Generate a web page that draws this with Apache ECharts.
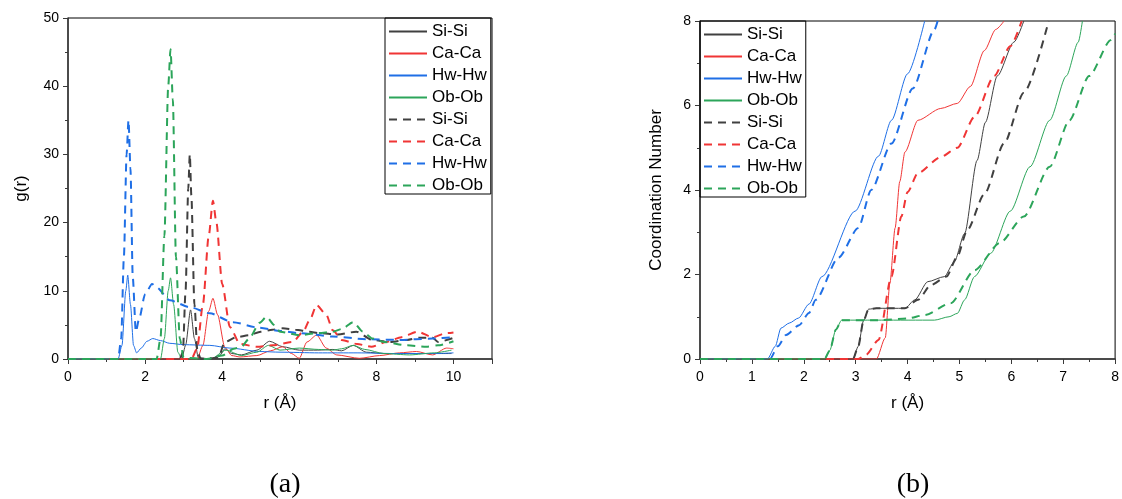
<!DOCTYPE html>
<html>
<head>
<meta charset="utf-8">
<script src="https://cdn.jsdelivr.net/npm/echarts@6/dist/echarts.min.js"></script>
<style>
  html, body { margin: 0; padding: 0; background: #fff; }
  #chart { width: 1122px; height: 499px; }
</style>
</head>
<body>
<div id="chart"></div>
<script>
// legend labels (solid first, then dashed)
const pairLabels = ['Si-Si', 'Ca-Ca', 'Hw-Hw', 'Ob-Ob']

// (a) g(r) -- [r, g]
const siSolidA = [[0,0],[2.95,0],[3.05,2],[3.18,7.2],[3.28,3],[3.38,0.2],[3.7,0],[3.95,0.6],[4.07,1.5],[4.25,0.8],[4.5,0.6],[4.9,1.3],[5.23,2.6],[5.57,1.8],[6.0,1.3],[6.48,1.3],[6.87,1.4],[7.1,1.2],[7.4,2.0],[7.74,1.0],[8.2,0.8],[8.6,0.8],[9.3,0.8],[9.95,0.8]]
const caSolidA = [[0,0],[3.35,0],[3.5,2],[3.65,7],[3.76,8.9],[3.88,6.5],[4.07,1.7],[4.25,0.5],[4.46,0.3],[4.9,0.5],[5.25,1.2],[5.57,1.8],[5.8,0.8],[6.0,0.1],[6.2,2.5],[6.45,3.5],[6.7,1.6],[6.97,0.6],[7.56,0.1],[8.08,0.5],[8.6,0.9],[9.04,1.1],[9.46,0.6],[9.82,1.6],[10,1.5]]
const hwSolidA = [[0,0],[1.3,0],[1.4,2],[1.5,10],[1.55,12.3],[1.62,8],[1.7,2],[1.78,0.9],[1.9,1.6],[2.05,2.6],[2.2,3.0],[2.4,2.7],[2.64,2.3],[3.0,2.1],[3.68,2.0],[4.2,1.6],[4.97,1.1],[5.5,1.0],[6.5,0.9],[7.5,0.9],[8.5,0.8],[9.5,0.8],[10,0.9]]
const obSolidA = [[0,0],[2.4,0],[2.5,3],[2.6,10],[2.66,11.9],[2.74,8],[2.85,1],[2.95,0],[3.7,0],[4.1,1.3],[4.5,0.5],[4.9,1.0],[5.2,2.0],[5.5,1.3],[6.0,1.6],[6.5,1.4],[6.87,1.3],[7.1,1.5],[7.4,2.0],[7.7,1.4],[8.2,0.8],[8.86,0.6],[9.5,0.9],[9.95,1.3]]
const siDashA = [[0,0],[2.9,0],[2.98,1],[3.05,10],[3.12,25],[3.16,30],[3.2,24],[3.28,8],[3.36,1],[3.45,0],[3.9,0.2],[4.07,2.5],[4.37,3.2],[4.7,3.5],[5.0,4.0],[5.3,4.3],[5.57,4.5],[5.9,4.3],[6.27,4],[6.5,3.8],[7.0,3.6],[7.48,4.0],[7.9,2.8],[8.34,2.5],[8.8,2.8],[9.1,3.1],[9.46,3.1],[9.6,2.5],[10,3.1]]
const caDashA = [[0,0],[3.2,0],[3.35,1.5],[3.5,8],[3.65,18],[3.76,23.2],[3.85,20],[4.0,11],[4.2,4.7],[4.46,2.2],[4.9,1.8],[5.3,2.0],[5.83,2.5],[6.1,4],[6.27,5.7],[6.45,7.9],[6.7,6.5],[6.87,4.2],[7.1,2.8],[7.5,2.2],[7.87,1.8],[8.26,2.5],[8.65,3.2],[9.07,4.0],[9.46,3.2],[9.82,3.8],[10,3.9]]
const hwDashA = [[0,0],[1.3,0],[1.38,3],[1.45,15],[1.52,30],[1.57,35],[1.62,28],[1.68,12],[1.76,4],[1.85,6],[2.0,9.5],[2.18,11],[2.3,10.5],[2.64,8.6],[3.16,7.6],[3.68,6.7],[4.27,5.4],[4.95,4.6],[5.5,4.1],[6.0,3.8],[6.87,3.3],[7.74,2.9],[8.6,2.8],[9.46,3.0],[10,3.2]]
const obDashA = [[0,0],[2.3,0],[2.4,3],[2.5,18],[2.6,40],[2.66,45.4],[2.72,38],[2.8,15],[2.9,3],[3.0,0.2],[3.6,0],[4.0,0.5],[4.3,1.5],[4.5,1.8],[4.7,3],[4.97,5.3],[5.15,6.2],[5.35,5],[5.5,4.0],[6.0,3.5],[6.5,3.8],[6.87,4.0],[7.1,4.4],[7.4,5.4],[7.65,4.0],[7.9,3],[8.2,2.5],[8.8,2.0],[9.3,1.8],[9.6,2.0],[10,2.6]]

// (b) coordination number -- [r, CN]
const siSolidB = [[0,0],[2.95,0],[3.05,0.3],[3.15,0.9],[3.25,1.18],[3.4,1.2],[3.95,1.2],[4.14,1.4],[4.39,1.83],[4.71,1.95],[4.9,2.3],[5.1,2.97],[5.34,4.7],[5.5,5.6],[5.73,6.7],[6.05,7.5],[6.24,8]]
const caSolidB = [[0,0],[3.4,0],[3.57,0.5],[3.66,1.8],[3.76,3.1],[3.85,4.2],[3.95,4.9],[4.2,5.65],[4.64,5.93],[4.96,6.05],[5.21,6.45],[5.48,7.3],[5.7,7.8],[5.86,8]]
const hwSolidB = [[0,0],[1.3,0],[1.45,0.3],[1.56,0.73],[1.72,0.85],[1.9,0.97],[2.1,1.3],[2.35,1.95],[2.99,3.5],[3.44,4.8],[3.69,5.65],[4.0,6.75],[4.33,8]]
const obSolidB = [[0,0],[2.4,0],[2.5,0.2],[2.62,0.7],[2.73,0.92],[3.5,0.92],[4.52,0.92],[4.8,1.0],[4.96,1.08],[5.1,1.4],[5.29,1.95],[5.6,2.5],[5.98,3.5],[6.36,4.55],[6.74,5.65],[7.06,6.7],[7.29,7.5],[7.37,8]]
const siDashB = [[0,0],[2.95,0],[3.05,0.3],[3.15,0.9],[3.25,1.18],[3.4,1.2],[3.95,1.2],[4.2,1.4],[4.45,1.75],[4.75,1.95],[4.95,2.4],[5.15,3.05],[5.48,3.9],[5.86,5.1],[6.24,6.3],[6.72,8]]
const caDashB = [[0,0],[3.05,0],[3.2,0.1],[3.44,0.45],[3.69,1.95],[3.88,3.37],[4.0,3.95],[4.2,4.4],[4.64,4.78],[4.96,5.0],[5.29,5.73],[5.67,6.7],[5.98,7.4],[6.2,8]]
const hwDashB = [[0,0],[1.35,0],[1.5,0.3],[1.66,0.57],[1.91,0.8],[2.1,1.09],[2.23,1.4],[2.67,2.4],[3.05,3.1],[3.3,4.0],[3.69,5.1],[4.1,6.4],[4.52,7.8],[4.58,8]]
const obDashB = [[0,0],[2.4,0],[2.5,0.2],[2.62,0.7],[2.73,0.92],[3.5,0.92],[4.0,0.96],[4.33,1.04],[4.83,1.32],[5.29,2.1],[5.78,2.75],[6.24,3.37],[6.74,4.55],[7.12,5.65],[7.5,6.7],[7.92,7.55],[8,7.7]]

// tick settings
const xTicksA = { min: 0, max: 11, interval: 2 }
const yTicksA = { min: 0, max: 50, interval: 10 }
const xTicksB = { min: 0, max: 8, interval: 1 }
const yTicksB = { min: 0, max: 8, interval: 2 }

const colors = ['#404040', '#f03535', '#1f6fe6', '#2ca55a']
const font = 'Liberation Sans, Arial, sans-serif'

const solidA = [siSolidA, caSolidA, hwSolidA, obSolidA]
const dashA = [siDashA, caDashA, hwDashA, obDashA]
const solidB = [siSolidB, caSolidB, hwSolidB, obSolidB]
const dashB = [siDashB, caDashB, hwDashB, obDashB]

const legendNames = pairLabels.concat(pairLabels.map(n => n + ' dashed'))

function makeSeries(idx, dataList, dashed) {
  return dataList.map((d, i) => ({
    name: pairLabels[i] + (dashed ? ' dashed' : ''),
    type: 'line',
    xAxisIndex: idx,
    yAxisIndex: idx,
    data: d,
    symbol: 'none',
    smooth: 0.25,
    smoothMonotone: 'x',
    lineStyle: {
      color: colors[i],
      width: dashed ? 2 : 1,
      type: dashed ? [8, 6] : 'solid'
    },
    itemStyle: { color: colors[i] },
    z: dashed ? 3 : 2
  }))
}

function axisBase(ticks, extra) {
  return Object.assign({
    type: 'value',
    min: ticks.min,
    max: ticks.max,
    interval: ticks.interval,
    splitLine: { show: false },
    axisLine: { show: true, onZero: false, lineStyle: { color: '#3a3a3a', width: 1.5 } },
    axisTick: { show: true, length: 5, lineStyle: { color: '#3a3a3a' } },
    minorTick: { show: true, splitNumber: 2, length: 3, lineStyle: { color: '#3a3a3a' } },
    axisLabel: { color: '#000', fontSize: 14, fontFamily: font, margin: 9 },
    nameLocation: 'middle',
    nameTextStyle: { color: '#000', fontSize: 17, fontFamily: font }
  }, extra)
}

function legendAt(left, top) {
  return {
    left: left,
    top: top,
    orient: 'vertical',
    data: legendNames,
    itemWidth: 38,
    itemHeight: 14,
    itemGap: 5,
    padding: [5, 4, 0, 3],
    borderColor: '#000',
    borderWidth: 1,
    selectedMode: false,
    itemStyle: { opacity: 0, borderWidth: 0 },
    formatter: name => name.replace(' dashed', ''),
    textStyle: { color: '#000', fontSize: 17, lineHeight: 17, fontFamily: font }
  }
}

const chart = echarts.init(document.getElementById('chart'), null, { renderer: 'canvas' })
chart.setOption({
  animation: false,
  backgroundColor: '#fff',
  grid: [
    { left: 68, top: 18, width: 424, height: 341, show: true, borderColor: '#000', borderWidth: 1 },
    { left: 700, top: 21, width: 419, height: 338, show: true, borderColor: '#000', borderWidth: 1 }
  ],
  xAxis: [
    axisBase(xTicksA, { gridIndex: 0, name: 'r (Å)', nameGap: 36, axisLabel: { color: '#000', fontSize: 14, fontFamily: font, margin: 11, showMaxLabel: false } }),
    axisBase(xTicksB, { gridIndex: 1, name: 'r (Å)', nameGap: 36, axisLabel: { color: '#000', fontSize: 14, fontFamily: font, margin: 11 } })
  ],
  yAxis: [
    axisBase(yTicksA, { gridIndex: 0, name: 'g(r)', nameGap: 38 }),
    axisBase(yTicksB, { gridIndex: 1, name: 'Coordination Number', nameGap: 35 })
  ],
  legend: [legendAt(385, 18), legendAt(700, 21)],
  graphic: [
    { type: 'text', x: 285, y: 485, style: { text: '(a)', font: '28px "Liberation Serif", "Times New Roman", serif', fill: '#000', align: 'center', verticalAlign: 'middle' } },
    { type: 'text', x: 913, y: 485, style: { text: '(b)', font: '28px "Liberation Serif", "Times New Roman", serif', fill: '#000', align: 'center', verticalAlign: 'middle' } }
  ],
  series: [].concat(
    makeSeries(0, solidA, false),
    makeSeries(0, dashA, true),
    makeSeries(1, solidB, false),
    makeSeries(1, dashB, true)
  )
})
</script>
</body>
</html>
